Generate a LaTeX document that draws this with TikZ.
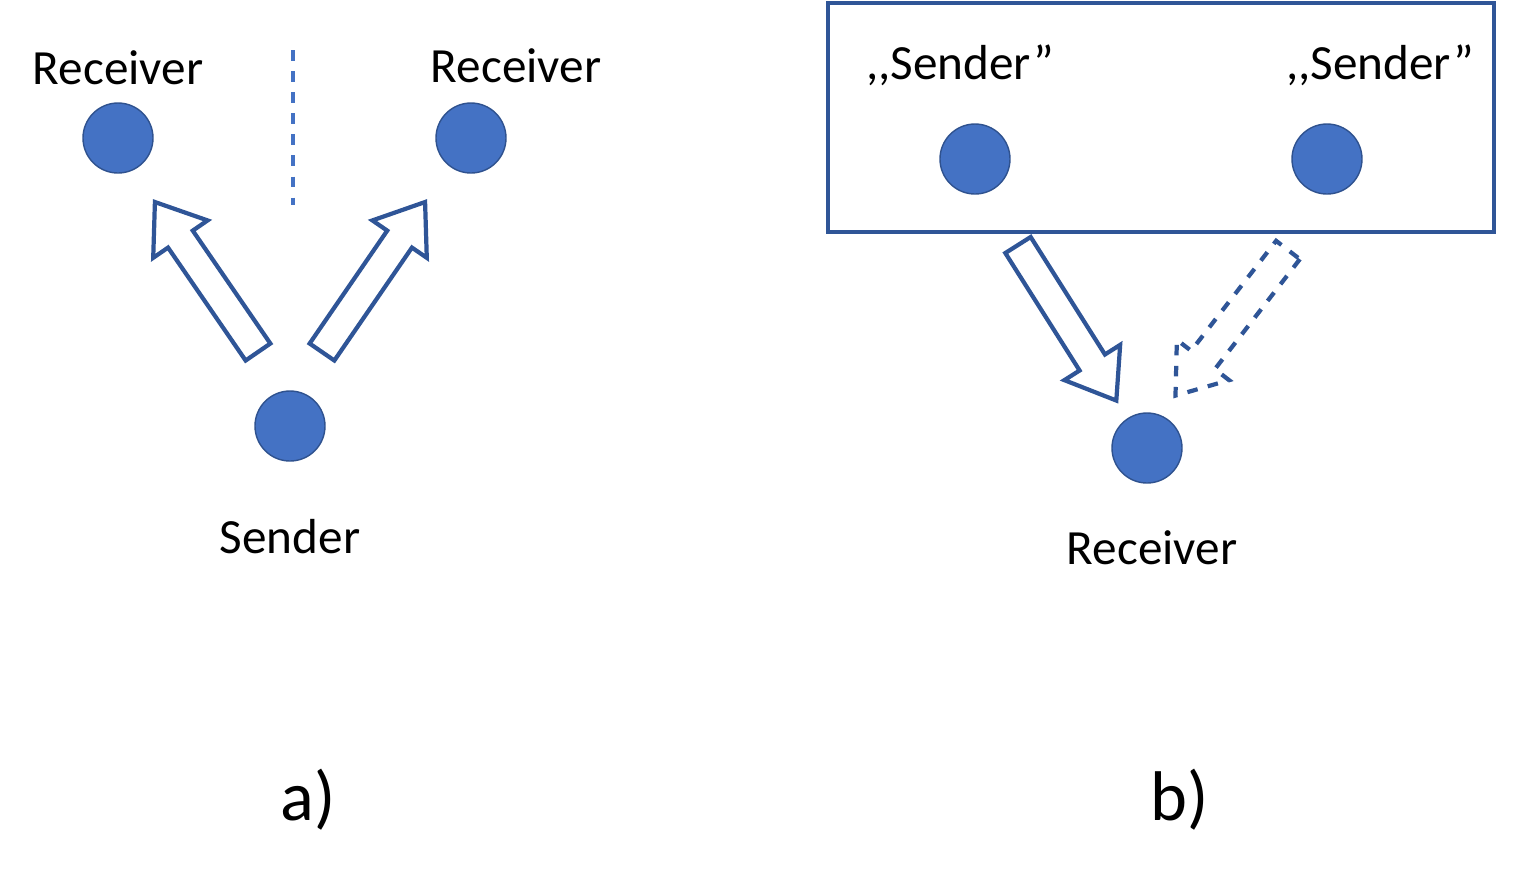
\documentclass[tikz,border=0pt]{standalone}
\usepackage{fontspec}
\setmainfont{Carlito}
\usetikzlibrary{positioning}
\definecolor{dotfill}{HTML}{4472C4}
\definecolor{dotline}{HTML}{2F528F}
\definecolor{frame}{HTML}{2F5597}
% hollow block arrow: tail point, angle, length, extra style
\newcommand\blockarrow[4]{%
\draw[frame, line width=1.2pt, fill=white, #4, shift={#1}, rotate=#2]
  (0,-0.15) -- (#3-0.45,-0.15) -- (#3-0.45,-0.33) -- (#3,0)
  -- (#3-0.45,0.33) -- (#3-0.45,0.15) -- (0,0.15) -- cycle;}

\begin{document}
\begin{tikzpicture}[x=1cm,y=-1cm,
  dot/.style={circle, fill=dotfill, draw=dotline, minimum size=0.7cm, inner sep=0pt},
  lbl/.style={font=\fontsize{14}{16}\selectfont},
  sub/.style={font=\fontsize{20}{24}\selectfont}]
\useasboundingbox (0,0) rectangle (15.32,8.85);

% a)
\node[dot] (r1) at (1.18,1.38) {};
\node[lbl] (r1t) at (1.18,0.68) {Receiver};
\node[dot] (r2) at (4.71,1.38) {};
\node[lbl] (r2t) at (5.16,0.66) {Receiver};
\node[dot] (s) at (2.90,4.26) {};
\node[lbl] (st) at (2.90,5.37) {Sender};
\draw[dotfill, line width=1.2pt, dashed] (2.93,0.50) -- (2.93,2.05);
\blockarrow{(2.58,3.52)}{124.5}{1.82}{}
\blockarrow{(3.22,3.52)}{55.5}{1.82}{}
\node[sub] (la) at (3.08,8.00) {a)};

% b)
\draw[frame, line width=1.2pt] (8.28,0.03) rectangle (14.94,2.32);
\node[lbl] (q1t) at (9.60,0.65) {{,}{,}Sender”};
\node[lbl] (q2t) at (13.80,0.65) {{,}{,}Sender”};
\node[dot] (q1) at (9.75,1.59) {};
\node[dot] (q2) at (13.27,1.59) {};
\node[dot] (rb) at (11.47,4.48) {};
\node[lbl] (rbt) at (11.52,5.48) {Receiver};
\blockarrow{(10.18,2.45)}{-57.7}{1.84}{}
\blockarrow{(12.88,2.50)}{-127.7}{1.84}{dashed}
\node[sub] (lb) at (11.80,8.00) {b)};
\end{tikzpicture}
\end{document}
